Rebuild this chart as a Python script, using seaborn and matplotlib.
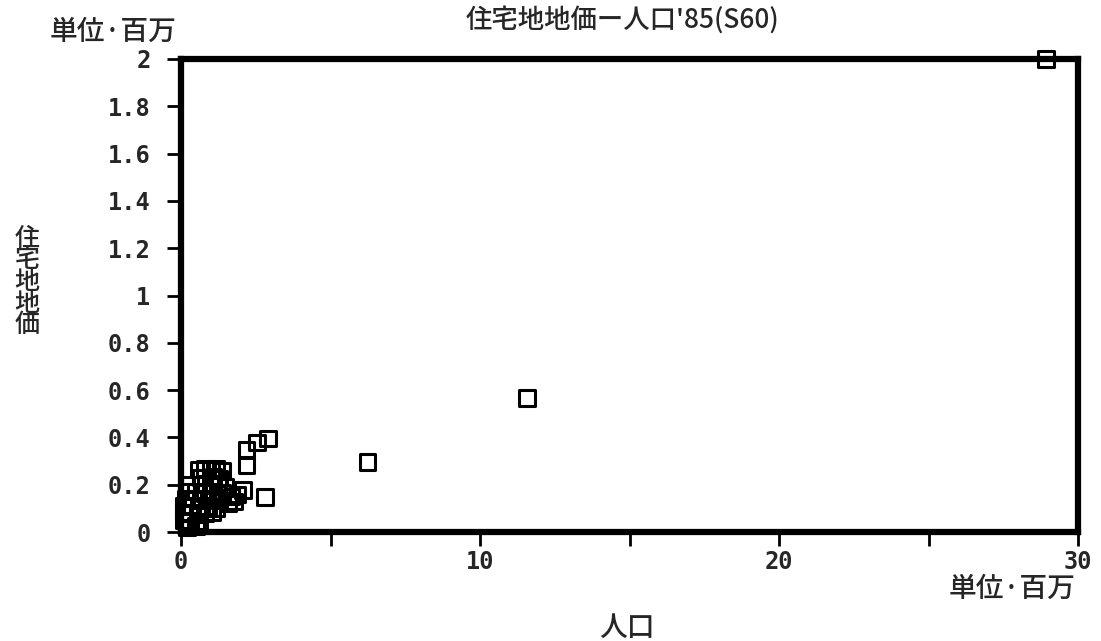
import matplotlib
matplotlib.use("Agg")
import matplotlib.pyplot as plt
import seaborn as sns
import pandas as pd
from matplotlib.ticker import MultipleLocator

# population (millions) and residential land price (millions)
pop = [28.93, 11.57, 6.25, 2.91, 2.54, 2.20, 2.20, 2.07, 2.81, 1.90,
       0.60, 0.80, 1.00, 1.20, 1.40,
       0.65, 1.10, 1.30,
       0.30, 0.70, 1.00, 1.25, 1.50,
       0.20, 0.50, 0.80, 1.10, 1.40, 1.70,
       0.15, 0.40, 0.70, 1.00, 1.30, 1.60, 1.80,
       0.10, 0.35, 0.60, 0.90, 1.20,
       0.10, 0.30, 0.55, 0.80, 1.05,
       0.10, 0.30, 0.60,
       0.20, 0.50]
price = [2.00, 0.567, 0.296, 0.397, 0.380, 0.350, 0.280, 0.178, 0.148, 0.160,
         0.265, 0.270, 0.265, 0.270, 0.260,
         0.230, 0.235, 0.225,
         0.200, 0.200, 0.195, 0.200, 0.190,
         0.170, 0.170, 0.165, 0.170, 0.165, 0.150,
         0.140, 0.140, 0.135, 0.140, 0.135, 0.120, 0.130,
         0.110, 0.110, 0.105, 0.110, 0.100,
         0.080, 0.080, 0.075, 0.080, 0.085,
         0.050, 0.050, 0.045,
         0.020, 0.025]

title = "住宅地地価ー人口'85(S60)"
unit_label = "単位·百万"
xlabel = "人口"
ylabel = "住宅地地価"
xticks = [0, 10, 20, 30]
yticks = [0, 0.2, 0.4, 0.6, 0.8, 1, 1.2, 1.4, 1.6, 1.8, 2]
yticklabels = ["0", "0.2", "0.4", "0.6", "0.8", "1", "1.2", "1.4", "1.6", "1.8", "2"]

df = pd.DataFrame({"pop": pop, "price": price})

sns.set_style("white")
plt.rcParams['font.family'] = ['Noto Sans CJK JP', 'DejaVu Sans']

fig = plt.figure(figsize=(11.01, 6.41), dpi=100)
ax = fig.add_axes([181/1101, 1-532/641, (1078-181)/1101, (532-59)/641])

sns.scatterplot(data=df, x="pop", y="price", ax=ax, marker="s", s=120,
                facecolor="none", edgecolor="black", linewidth=2.2, clip_on=False)

ax.set_xlim(0, 30)
ax.set_ylim(0, 2)
ax.set_xticks(xticks)
ax.set_xticklabels([str(v) for v in xticks])
ax.xaxis.set_minor_locator(MultipleLocator(5))
ax.set_yticks(yticks)
ax.set_yticklabels(yticklabels)

for sp in ax.spines.values():
    sp.set_linewidth(4.5)
    sp.set_color("black")

ax.tick_params(axis="both", which="both", direction="out", length=10, width=2,
               color="black", left=True, bottom=True)
ax.tick_params(axis="y", pad=12)
ax.tick_params(axis="x", pad=3)
for lab in ax.get_xticklabels() + ax.get_yticklabels():
    lab.set_fontfamily("DejaVu Sans Mono")
    lab.set_fontweight("bold")
    lab.set_fontsize(17)
ax.set_xlabel("")
ax.set_ylabel("")

fig.text(622/1101, 1-20/641, title, ha="center", va="center", fontsize=19,
         fontweight="medium")
fig.text(113/1101, 1-31/641, unit_label, ha="center", va="center", fontsize=20,
         fontweight="medium")
fig.text(1012/1101, 1-588/641, unit_label, ha="center", va="center", fontsize=20,
         fontweight="medium")
fig.text(627/1101, 1-627/641, xlabel, ha="center", va="center", fontsize=20,
         fontweight="medium")
fig.text(27/1101, 1-282/641, "\n".join(ylabel), ha="center", va="center",
         fontsize=18, linespacing=0.78, fontweight="medium")

fig.savefig("out.png", dpi=100)
